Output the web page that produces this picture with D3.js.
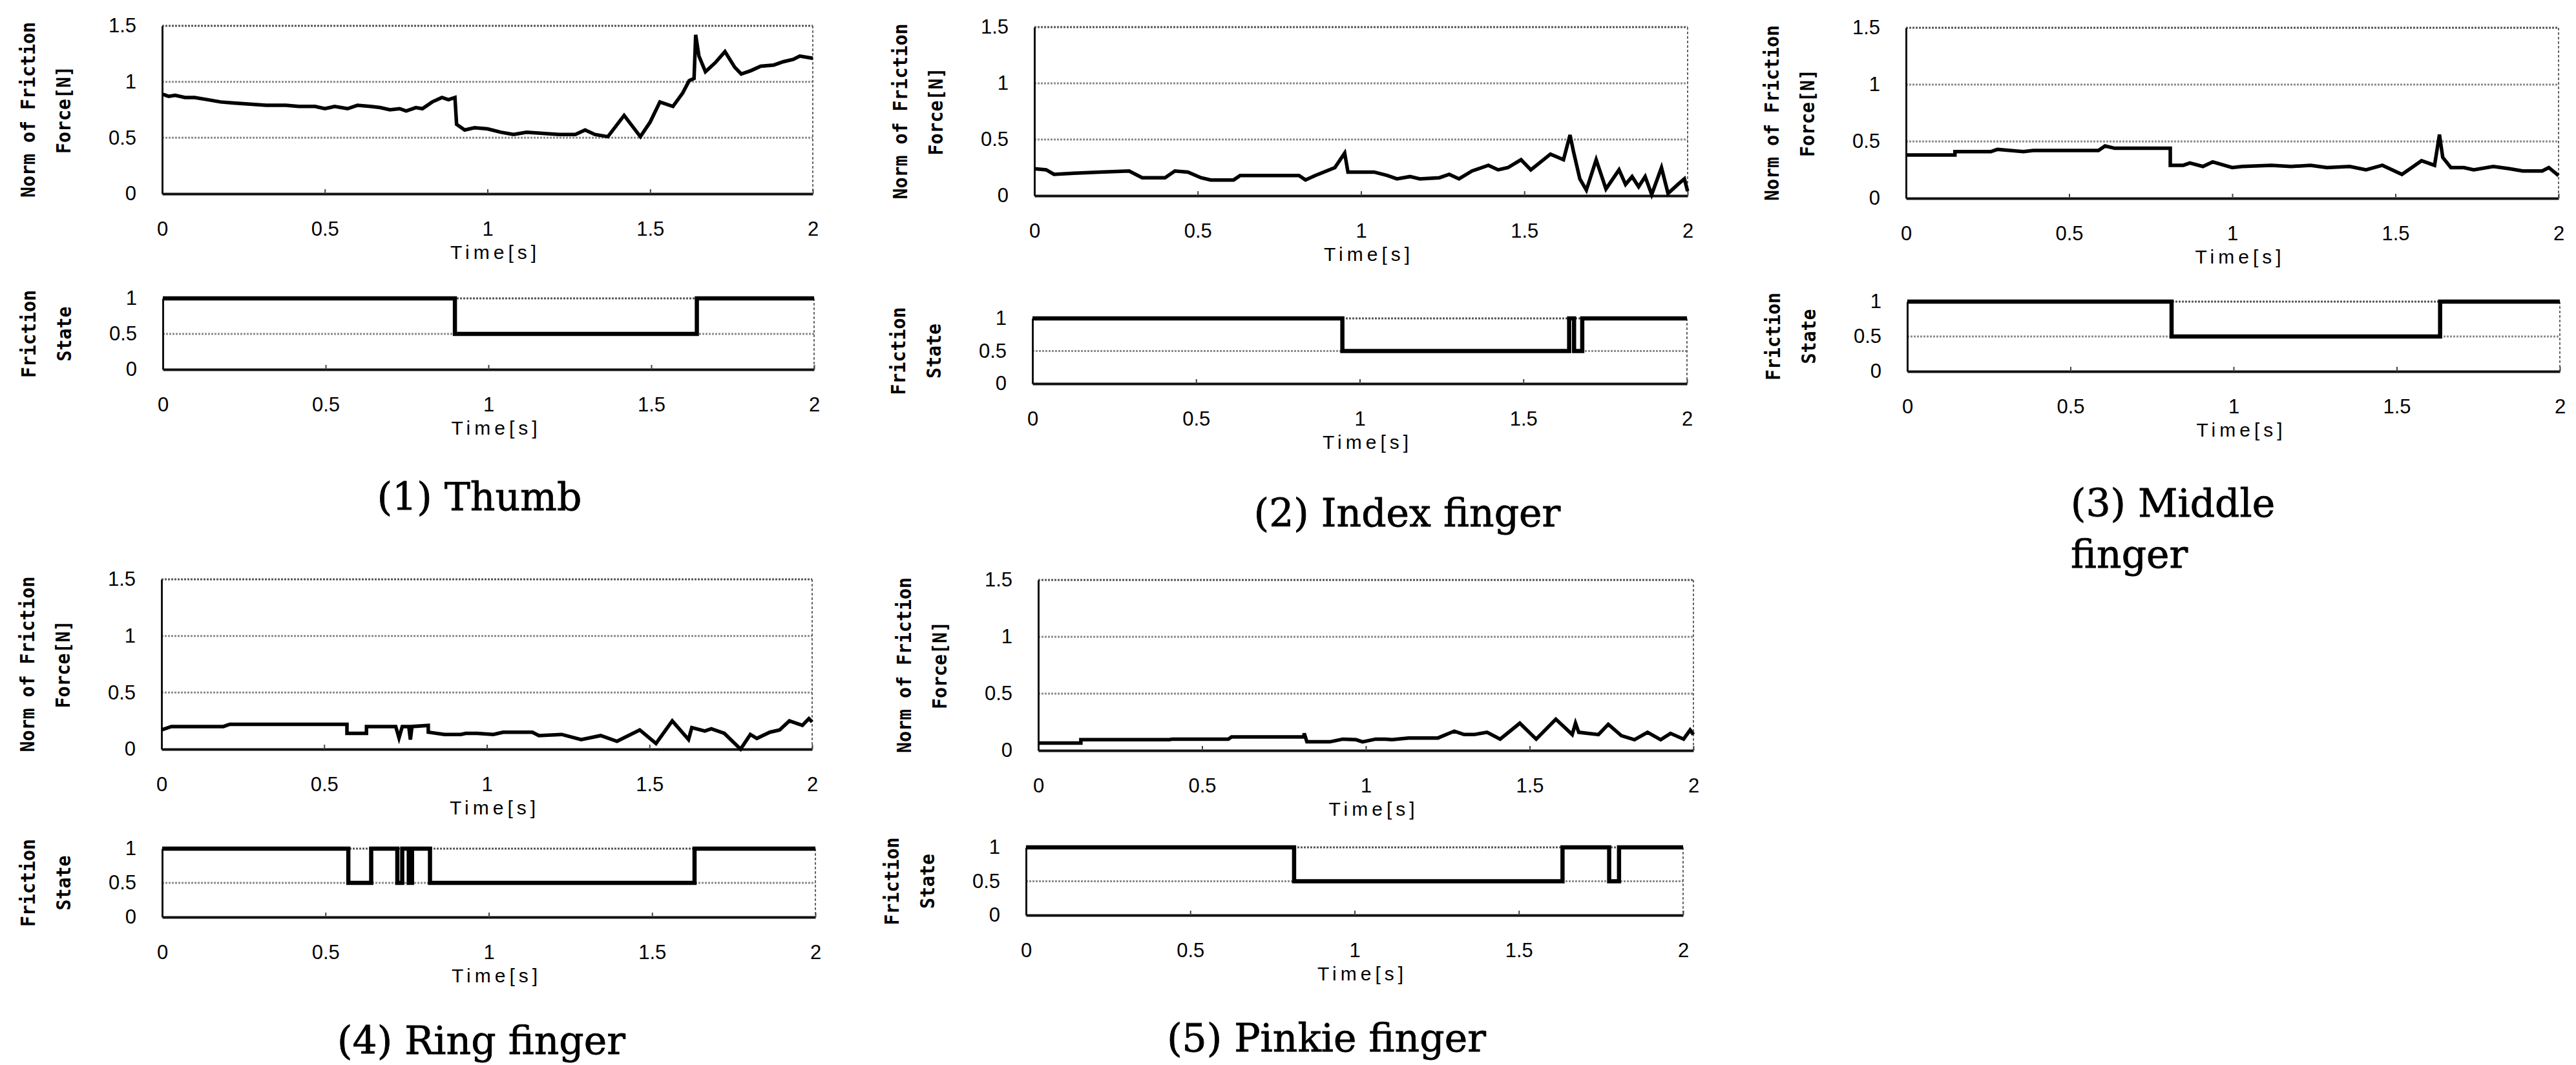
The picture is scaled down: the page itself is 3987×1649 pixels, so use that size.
<!DOCTYPE html>
<html>
<head>
<meta charset="utf-8">
<script src="https://cdn.jsdelivr.net/npm/d3@7"></script>
<style>
body { margin: 0; background: #fff; }
svg { display: block; background: #fff; }
.tick text { font-family: "Liberation Sans", Arial, sans-serif; font-size: 31px; fill: #000; }
.ytitle { font-family: "DejaVu Sans Mono", monospace; font-weight: bold; font-size: 30px; fill: #000; }
.xtitle { font-family: "Liberation Sans", Arial, sans-serif; font-size: 30px; fill: #000; letter-spacing: 6px; }
.caption { font-family: "DejaVu Serif", "Liberation Serif", serif; font-size: 60px; fill: #000; stroke: #000; stroke-width: 0.8px; }
</style>
</head>
<body>
<svg id="chart" width="3987" height="1649"></svg>
<script>

///////////////////////////////
//           Data            //
///////////////////////////////

var timeTicks = [0, 0.5, 1, 1.5, 2];
var forceTicks = [0, 0.5, 1, 1.5];
var stateTicks = [0, 0.5, 1];

var captions = ["(1) Thumb", "(2) Index finger", "(3) Middle finger", "(4) Ring finger", "(5) Pinkie finger"];

// [time s, norm of friction force N]
var thumbForce = [[0,0.89],[0.02,0.87],[0.04,0.88],[0.07,0.86],[0.1,0.86],[0.14,0.84],[0.18,0.82],[0.22,0.81],[0.27,0.8],[0.32,0.79],[0.38,0.79],[0.42,0.78],[0.47,0.78],[0.5,0.76],[0.53,0.78],[0.57,0.76],[0.6,0.79],[0.64,0.78],[0.67,0.77],[0.7,0.75],[0.73,0.76],[0.75,0.74],[0.78,0.77],[0.8,0.76],[0.83,0.82],[0.86,0.86],[0.88,0.84],[0.9,0.86],[0.905,0.62],[0.93,0.57],[0.96,0.59],[1.0,0.58],[1.04,0.55],[1.08,0.53],[1.12,0.55],[1.17,0.54],[1.22,0.53],[1.27,0.53],[1.3,0.57],[1.33,0.53],[1.37,0.51],[1.42,0.7],[1.47,0.51],[1.5,0.64],[1.53,0.82],[1.57,0.78],[1.6,0.9],[1.62,1.01],[1.635,1.03],[1.64,1.42],[1.65,1.23],[1.67,1.09],[1.7,1.17],[1.73,1.27],[1.76,1.13],[1.78,1.07],[1.81,1.1],[1.84,1.14],[1.88,1.15],[1.91,1.18],[1.94,1.2],[1.96,1.23],[2.0,1.21]];

var indexForce = [[0,0.24],[0.036,0.23],[0.06,0.19],[0.12,0.2],[0.2,0.21],[0.29,0.22],[0.33,0.16],[0.4,0.16],[0.43,0.22],[0.47,0.21],[0.51,0.16],[0.54,0.14],[0.61,0.14],[0.63,0.18],[0.81,0.18],[0.83,0.14],[0.86,0.18],[0.92,0.25],[0.95,0.38],[0.96,0.21],[1.04,0.21],[1.08,0.18],[1.11,0.15],[1.15,0.17],[1.18,0.15],[1.24,0.16],[1.27,0.19],[1.3,0.15],[1.34,0.22],[1.39,0.27],[1.42,0.23],[1.45,0.25],[1.49,0.32],[1.52,0.23],[1.58,0.37],[1.62,0.32],[1.64,0.54],[1.65,0.4],[1.67,0.15],[1.69,0.05],[1.72,0.32],[1.75,0.06],[1.79,0.23],[1.81,0.1],[1.83,0.17],[1.85,0.08],[1.87,0.17],[1.89,0.01],[1.92,0.25],[1.94,0.02],[1.97,0.1],[1.99,0.15],[2.0,0.04]];

var middleForce = [[0,0.38],[0.15,0.38],[0.15,0.41],[0.26,0.41],[0.28,0.43],[0.36,0.41],[0.39,0.42],[0.59,0.42],[0.61,0.46],[0.64,0.44],[0.81,0.44],[0.81,0.29],[0.85,0.29],[0.87,0.31],[0.91,0.28],[0.94,0.32],[1.0,0.27],[1.03,0.28],[1.12,0.29],[1.18,0.28],[1.24,0.29],[1.29,0.27],[1.36,0.28],[1.41,0.25],[1.46,0.29],[1.52,0.21],[1.58,0.33],[1.62,0.29],[1.635,0.56],[1.645,0.36],[1.67,0.27],[1.71,0.27],[1.74,0.25],[1.8,0.28],[1.85,0.26],[1.89,0.24],[1.95,0.24],[1.97,0.27],[2.0,0.2]];

var ringForce = [[0,0.17],[0.03,0.2],[0.19,0.2],[0.21,0.22],[0.57,0.22],[0.57,0.14],[0.63,0.14],[0.63,0.2],[0.72,0.2],[0.73,0.1],[0.74,0.2],[0.76,0.2],[0.765,0.085],[0.77,0.2],[0.82,0.21],[0.82,0.15],[0.87,0.13],[0.92,0.13],[0.935,0.14],[0.97,0.14],[1.02,0.13],[1.05,0.15],[1.14,0.15],[1.16,0.12],[1.23,0.13],[1.29,0.085],[1.35,0.12],[1.4,0.07],[1.47,0.17],[1.52,0.05],[1.57,0.25],[1.62,0.085],[1.63,0.19],[1.67,0.16],[1.69,0.18],[1.73,0.14],[1.78,0.0],[1.81,0.13],[1.83,0.095],[1.87,0.15],[1.9,0.17],[1.93,0.25],[1.97,0.21],[1.99,0.27],[2.0,0.24]];

var pinkieForce = [[0,0.066],[0.13,0.066],[0.13,0.095],[0.4,0.095],[0.41,0.1],[0.58,0.1],[0.59,0.12],[0.81,0.12],[0.812,0.15],[0.82,0.076],[0.89,0.076],[0.93,0.1],[0.97,0.095],[0.99,0.076],[1.03,0.1],[1.06,0.1],[1.08,0.095],[1.13,0.11],[1.22,0.11],[1.27,0.17],[1.3,0.14],[1.33,0.14],[1.37,0.16],[1.41,0.1],[1.47,0.24],[1.52,0.1],[1.58,0.275],[1.63,0.14],[1.64,0.24],[1.65,0.16],[1.71,0.14],[1.74,0.23],[1.78,0.13],[1.82,0.095],[1.86,0.16],[1.9,0.095],[1.93,0.15],[1.97,0.1],[1.99,0.18],[2.0,0.14]];

// [time s, friction state] change points
var thumbState = [[0,1],[0.897,0.5],[1.64,1],[2,1]];
var indexState = [[0,1],[0.947,0.5],[1.64,1],[1.655,0.5],[1.68,1],[2,1]];
var middleState = [[0,1],[0.81,0.5],[1.633,1],[2,1]];
var ringState = [[0,1],[0.57,0.5],[0.64,1],[0.72,0.5],[0.735,1],[0.755,0.5],[0.765,1],[0.82,0.5],[1.63,1],[2,1]];
var pinkieState = [[0,1],[0.816,0.5],[1.633,1],[1.775,0.5],[1.805,1],[2,1]];


///////////////////////////////
//          Layout           //
///////////////////////////////

var panels = [
	{ force: thumbForce, state: thumbState,
	  fbox: {x0: 251, x1: 1258, y0: 40, y1: 300}, sbox: {x0: 252, x1: 1260, y0: 462, y1: 572},
	  cap: {x: 742, y: 790, anchor: "middle"} },
	{ force: indexForce, state: indexState,
	  fbox: {x0: 1601, x1: 2612, y0: 42, y1: 303}, sbox: {x0: 1598, x1: 2611, y0: 493, y1: 594},
	  cap: {x: 2178, y: 815, anchor: "middle"} },
	{ force: middleForce, state: middleState,
	  fbox: {x0: 2950, x1: 3960, y0: 43, y1: 307}, sbox: {x0: 2952, x1: 3962, y0: 467, y1: 575},
	  cap: {x: 3205, y: 800, anchor: "start", wrap: true} },
	{ force: ringForce, state: ringState,
	  fbox: {x0: 250, x1: 1257, y0: 897, y1: 1160}, sbox: {x0: 251, x1: 1262, y0: 1314, y1: 1420},
	  cap: {x: 745, y: 1632, anchor: "middle"} },
	{ force: pinkieForce, state: pinkieState,
	  fbox: {x0: 1607, x1: 2621, y0: 898, y1: 1162}, sbox: {x0: 1588, x1: 2605, y0: 1312, y1: 1417},
	  cap: {x: 2053, y: 1628, anchor: "middle"} }
];

var svg = d3.select("#chart");
var fmt = d3.format("~g");


var drawPlot = function( box, yMax, yTicks, data, curve, lineWidth, titles ) {

	var x = d3.scaleLinear().domain([0, 2]).range([box.x0, box.x1]);
	var y = d3.scaleLinear().domain([0, yMax]).range([box.y1, box.y0]);

	var g = svg.append("g");

	// Gridlines (top one doubles as the frame)
	g.selectAll(".grid")
		.data(yTicks.filter(function(d) { return d > 0 })).enter()
		.append("line")
		.attr("x1", box.x0).attr("x2", box.x1)
		.attr("y1", function(d) { return y(d) }).attr("y2", function(d) { return y(d) })
		.style("stroke", function(d) { return d == yMax ? "#555" : "#8c8c8c" })
		.style("stroke-width", 3)
		.style("stroke-dasharray", "3,2");

	// right frame
	g.append("line")
		.attr("x1", box.x1).attr("x2", box.x1)
		.attr("y1", y(yMax)).attr("y2", y(0))
		.style("stroke", "#666")
		.style("stroke-width", 2)
		.style("stroke-dasharray", "4,3");

	// x axis
	var xa = g.append("g")
		.attr("transform", "translate(0," + y(0) + ")")
		.call(d3.axisBottom(x).tickValues(timeTicks).tickFormat(fmt)
			.tickSizeInner(-7).tickSizeOuter(0).tickPadding(43));
	xa.select(".domain").style("stroke", "#111").style("stroke-width", 4);
	xa.selectAll(".tick line").style("stroke", "#444").style("stroke-width", 2);

	// y axis
	var ya = g.append("g")
		.attr("transform", "translate(" + box.x0 + ",0)")
		.call(d3.axisLeft(y).tickValues(yTicks).tickFormat(fmt)
			.tickSize(0).tickPadding(40));
	ya.select(".domain").style("stroke", "#111").style("stroke-width", 3);

	// data
	g.append("path")
		.datum(data)
		.attr("d", d3.line()
			.x(function(d) { return x(d[0]) })
			.y(function(d) { return y(d[1]) })
			.curve(curve))
		.style("fill", "none")
		.style("stroke", "#000")
		.style("stroke-width", lineWidth)
		.style("stroke-linejoin", "miter");

	// x title, kept just under the "1" tick label
	g.append("text")
		.attr("class", "xtitle")
		.attr("x", (box.x0 + box.x1) / 2 + 12)
		.attr("y", y(0) + 90)
		.attr("text-anchor", "middle")
		.attr("dominant-baseline", "central")
		.text("Time[s]");

	// y titles, two rotated lines
	var cy = (box.y0 + box.y1) / 2;
	titles.forEach(function(t, i) {
		var tx = box.x0 - 208 + i * 55;
		g.append("text")
			.attr("class", "ytitle")
			.attr("transform", "translate(" + tx + "," + cy + ") rotate(-90)")
			.attr("text-anchor", "middle")
			.attr("dominant-baseline", "central")
			.attr("textLength", t.length * 17)
			.attr("lengthAdjust", "spacingAndGlyphs")
			.text(t);
	});
}


panels.forEach(function(p, i) {

	drawPlot(p.fbox, 1.5, forceTicks, p.force, d3.curveLinear, 5.5, ["Norm of Friction", "Force[N]"]);
	drawPlot(p.sbox, 1, stateTicks, p.state, d3.curveStepAfter, 6.5, ["Friction", "State"]);

	var cap = svg.append("text")
		.attr("class", "caption")
		.attr("x", p.cap.x)
		.attr("y", p.cap.y)
		.attr("text-anchor", p.cap.anchor);

	if (p.cap.wrap) {
		// "(3) Middle" / "finger" on two lines
		var words = captions[i].split(" ");
		cap.append("tspan").attr("x", p.cap.x).text(words.slice(0, 2).join(" "));
		cap.append("tspan").attr("x", p.cap.x).attr("dy", 79).text(words.slice(2).join(" "));
	} else {
		cap.text(captions[i]);
	}
});

</script>
</body>
</html>
